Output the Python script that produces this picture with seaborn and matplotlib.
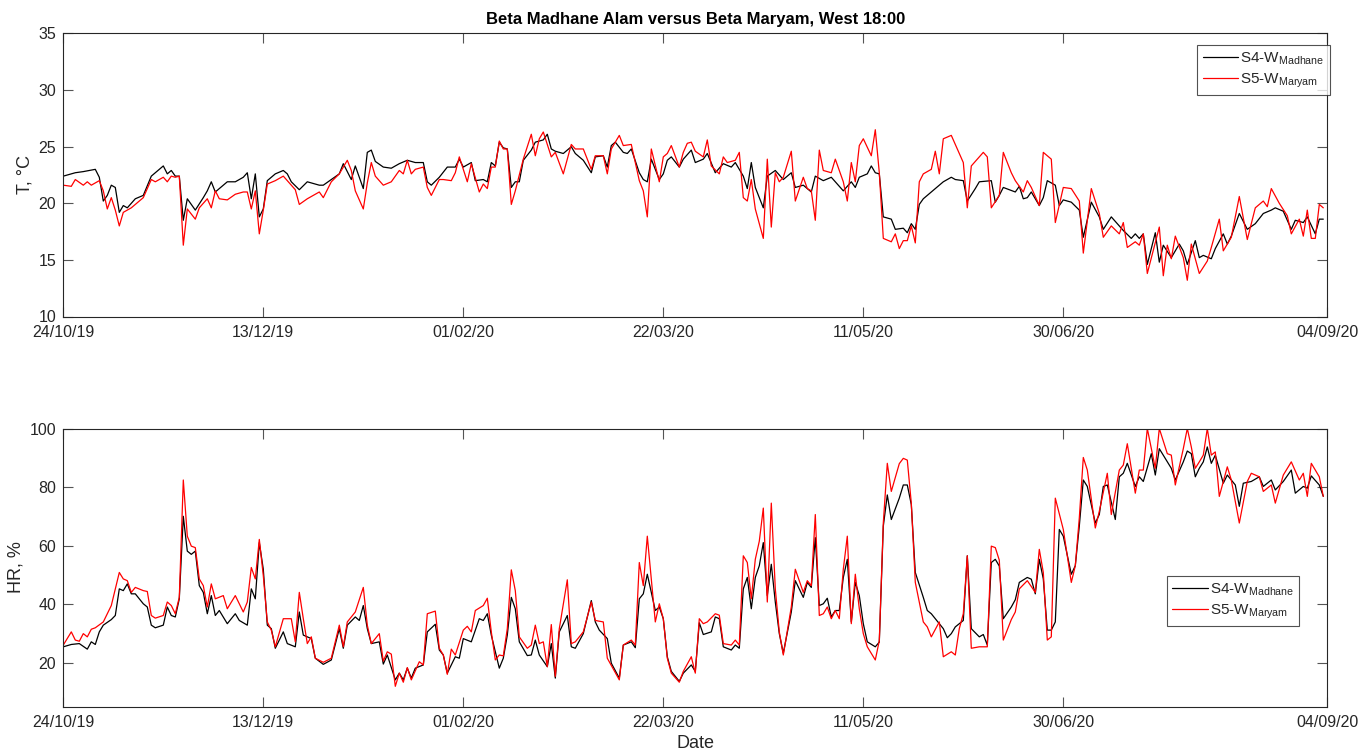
import numpy as np
import pandas as pd
import matplotlib
matplotlib.use("Agg")
import matplotlib.pyplot as plt
import seaborn as sns
from matplotlib.lines import Line2D

# ---------------- data (day offset from 24/10/2019, value) ----------------
START = "2019-10-24"
SERIES_NAMES = [r"S4-W$_{\mathrm{Madhane}}$", r"S5-W$_{\mathrm{Maryam}}$"]
SERIES_COLORS = ["#000000", "#ff0000"]

TICK_DAYS = [0, 50, 100, 150, 200, 250, 316]
TICK_LABELS = ["24/10/19", "13/12/19", "01/02/20", "22/03/20", "11/05/20", "30/06/20", "04/09/20"]

T_S4 = [(0,22.4),(1,22.5),(3,22.7),(5,22.8),(8,23.0),(9,22.3),(10,20.2),(11,20.7),(12,21.6),(13,21.4),(14,19.2),(15,19.8),(16,19.6),(18,20.4),(20,20.7),(22,22.4),(23,22.7),(25,23.3),(26,22.6),(27,22.9),(28,22.4),(29,22.4),(30,18.5),(31,20.4),(32,19.9),(33,19.4),(35,20.5),(36,21.1),(37,21.9),(38,21.0),(40,21.6),(41,21.9),(43,21.9),(45,22.3),(46,22.7),(47,20.4),(48,22.6),(49,18.8),(50,19.5),(51,22.0),(53,22.6),(55,22.9),(56,22.6),(57,21.9),(59,21.2),(61,21.9),(64,21.6),(65,21.6),(67,22.1),(69,22.6),(70,23.5),(72,22.1),(73,23.3),(75,21.3),(76,24.5),(77,24.7),(78,23.7),(80,23.2),(82,23.1),(84,23.5),(86,23.8),(88,23.6),(90,23.6),(91,21.9),(92,21.6),(94,22.3),(96,23.2),(98,23.2),(99,23.9),(100,23.2),(102,23.6),(103,22.0),(105,22.1),(106,21.9),(107,23.6),(108,23.3),(109,25.4),(110,24.9),(111,24.8),(112,21.4),(113,21.9),(114,21.9),(115,23.8),(117,24.7),(118,25.4),(120,25.6),(121,26.1),(122,24.8),(123,24.6),(125,24.4),(127,25.0),(128,24.4),(130,23.8),(132,22.7),(133,24.1),(135,24.2),(136,23.2),(137,25.1),(138,25.4),(140,24.5),(141,24.4),(142,24.8),(144,22.7),(145,22.1),(146,21.9),(147,23.9),(149,22.1),(150,22.6),(151,23.8),(152,24.1),(154,23.2),(155,23.9),(157,24.7),(158,23.6),(160,23.9),(161,24.4),(163,22.7),(165,23.5),(167,23.2),(168,23.6),(170,22.4),(171,21.3),(172,23.6),(173,21.4),(175,19.6),(176,22.4),(178,22.9),(180,22.1),(182,22.7),(183,21.4),(185,21.6),(187,21.0),(188,22.4),(190,22.0),(192,22.3),(195,21.1),(197,21.9),(198,21.4),(199,22.3),(201,22.6),(202,23.3),(203,22.7),(204,22.6),(205,18.8),(207,18.6),(208,17.7),(210,17.8),(211,17.4),(212,18.2),(213,17.7),(214,19.9),(215,20.4),(217,21.0),(218,21.3),(220,21.9),(222,22.3),(223,22.1),(225,22.0),(226,20.2),(228,21.3),(229,21.9),(232,22.0),(233,20.1),(234,20.7),(235,21.4),(238,21.0),(239,21.5),(240,20.4),(241,20.5),(242,21.0),(244,19.8),(245,20.5),(246,22.0),(248,21.6),(249,19.8),(250,20.3),(252,20.1),(254,19.4),(255,17.0),(257,20.1),(259,18.8),(260,17.7),(262,18.8),(264,18.0),(265,17.6),(267,16.9),(268,17.3),(269,16.9),(270,17.3),(271,14.6),(273,17.4),(274,14.8),(275,16.3),(277,15.2),(279,16.4),(280,15.8),(281,14.6),(283,16.7),(284,15.2),(285,15.4),(287,15.1),(288,16.0),(290,17.3),(291,16.4),(292,17.1),(294,19.1),(295,18.4),(296,17.7),(298,18.2),(300,19.1),(302,19.4),(303,19.6),(305,19.3),(307,17.7),(308,18.5),(310,18.3),(311,18.8),(313,17.3),(314,18.6),(315,18.6)]

T_S5 = [(0,21.6),(2,21.5),(3,22.1),(5,21.6),(6,21.9),(7,21.6),(9,22.0),(10,21.1),(11,19.5),(12,20.5),(13,19.4),(14,18.0),(15,19.2),(17,19.6),(18,19.9),(20,20.5),(22,22.1),(23,21.9),(25,22.3),(26,21.9),(27,22.4),(28,22.3),(29,22.4),(30,16.3),(31,19.5),(33,18.6),(34,19.6),(36,20.4),(37,19.6),(38,21.1),(39,20.4),(41,20.3),(43,20.8),(45,21.0),(46,21.0),(47,19.5),(48,21.1),(49,17.3),(50,19.4),(51,21.7),(53,22.0),(55,22.4),(56,22.0),(58,21.2),(59,19.9),(61,20.4),(64,21.0),(65,20.5),(67,21.9),(69,22.6),(71,23.8),(72,22.9),(73,21.1),(75,19.5),(76,21.8),(77,23.6),(78,22.4),(80,21.6),(82,21.9),(83,22.4),(84,22.9),(85,22.6),(86,23.8),(87,22.6),(88,23.0),(90,23.2),(91,21.4),(92,20.7),(94,22.1),(95,22.1),(97,22.0),(98,22.7),(99,24.1),(101,21.9),(102,23.5),(104,21.0),(105,21.7),(106,21.3),(107,23.2),(108,23.2),(109,25.5),(110,24.8),(111,24.8),(112,19.9),(113,21.1),(115,23.9),(117,26.1),(118,24.2),(119,25.7),(120,26.3),(122,24.1),(123,24.5),(125,22.6),(127,25.2),(128,24.8),(130,24.8),(132,23.0),(133,24.2),(135,24.2),(136,22.6),(137,24.8),(139,26.0),(140,25.1),(142,25.2),(144,22.0),(145,21.1),(146,18.8),(147,24.8),(149,21.9),(150,24.1),(151,24.4),(152,25.1),(154,23.2),(155,24.5),(156,25.3),(157,25.4),(158,24.6),(160,24.1),(161,25.6),(162,23.3),(164,22.6),(165,24.1),(166,23.6),(168,23.8),(169,24.5),(170,20.5),(171,20.2),(172,22.1),(173,19.5),(175,16.9),(176,23.9),(177,17.9),(178,22.7),(179,21.9),(180,22.3),(182,24.6),(183,20.2),(185,22.3),(186,21.3),(187,21.1),(188,18.5),(189,24.7),(190,22.9),(192,22.7),(193,23.9),(195,21.9),(196,20.2),(197,23.6),(198,21.9),(199,25.1),(200,25.7),(202,24.2),(203,26.5),(204,22.7),(205,16.9),(207,16.6),(208,17.3),(209,16.0),(210,16.7),(211,16.7),(212,18.0),(213,16.5),(214,21.9),(215,22.6),(217,23.0),(218,24.6),(219,22.6),(220,25.7),(222,26.0),(225,23.6),(226,19.6),(227,23.3),(230,24.5),(231,24.1),(232,19.6),(234,20.7),(235,24.5),(237,22.7),(238,22.0),(240,21.0),(241,22.0),(242,21.4),(244,19.8),(245,24.5),(247,23.9),(248,18.3),(250,21.4),(252,21.3),(254,20.2),(255,15.6),(257,21.3),(259,19.1),(260,17.0),(262,18.0),(264,17.3),(265,18.3),(266,16.1),(268,16.6),(269,16.3),(270,17.3),(271,13.8),(274,17.9),(275,13.6),(276,16.3),(277,15.1),(278,17.1),(280,15.2),(281,13.2),(282,16.4),(284,13.8),(286,14.9),(287,16.1),(289,18.6),(290,15.8),(292,17.0),(294,20.6),(296,16.8),(298,19.6),(300,20.2),(301,19.7),(302,21.3),(304,20.0),(306,18.9),(307,17.3),(309,18.6),(310,17.1),(311,19.4),(312,16.9),(313,16.9),(314,19.9),(315,19.6)]

HR_S4 = [(0,25.4),(2,26.2),(4,26.5),(6,24.6),(7,27.1),(8,26.2),(9,30.5),(10,32.8),(12,34.7),(13,36.1),(14,45.2),(15,44.6),(16,46.9),(17,43.5),(18,43.5),(20,40.1),(21,39.0),(22,32.8),(23,31.9),(25,32.8),(26,39.0),(27,36.1),(28,35.6),(29,41.8),(30,70.0),(31,58.1),(32,57.0),(33,58.1),(34,46.3),(35,44.0),(36,36.7),(37,42.9),(38,36.1),(39,37.8),(41,33.3),(43,36.7),(44,34.4),(46,32.8),(47,45.2),(48,41.8),(49,61.0),(50,51.9),(51,32.8),(52,31.6),(53,24.9),(55,30.5),(56,26.5),(58,25.4),(59,37.3),(60,29.4),(62,28.2),(63,21.5),(65,19.4),(67,20.9),(69,31.6),(70,24.9),(71,32.8),(73,35.6),(74,34.4),(75,39.5),(76,31.6),(77,26.5),(79,27.1),(80,19.5),(81,22.6),(83,14.1),(84,16.4),(85,14.1),(86,18.1),(87,14.7),(88,18.1),(90,19.2),(91,30.5),(93,33.1),(94,24.3),(95,22.6),(96,16.4),(98,22.0),(99,21.5),(100,28.2),(102,27.1),(104,35.0),(105,34.4),(106,36.7),(107,29.4),(109,18.1),(110,21.5),(111,29.4),(112,42.3),(113,38.4),(114,27.1),(116,22.4),(117,22.6),(118,27.7),(119,22.6),(121,18.6),(122,26.5),(123,14.7),(124,30.5),(126,36.1),(127,25.4),(128,24.9),(130,29.9),(132,41.2),(133,33.9),(134,31.1),(136,28.2),(137,19.8),(139,14.7),(140,26.0),(142,27.1),(143,25.1),(144,41.8),(145,43.5),(146,50.2),(148,37.8),(149,39.0),(150,35.0),(151,22.0),(152,17.0),(154,13.6),(155,16.4),(157,19.2),(158,17.0),(159,33.6),(160,29.6),(162,30.5),(163,35.6),(164,35.0),(165,25.4),(167,24.3),(168,26.0),(169,24.9),(170,45.2),(171,49.1),(172,38.4),(173,49.1),(174,53.1),(175,61.0),(176,42.9),(177,53.6),(178,40.7),(179,29.9),(180,23.2),(182,37.3),(183,48.0),(185,42.3),(186,47.4),(187,45.7),(188,62.7),(189,39.5),(190,40.1),(191,42.0),(192,35.6),(193,37.8),(194,37.8),(195,49.1),(196,55.3),(197,33.9),(198,47.4),(199,42.9),(200,33.3),(201,27.1),(203,25.4),(204,27.0),(205,66.6),(206,77.3),(207,68.9),(209,76.2),(210,80.7),(211,80.7),(212,74.0),(213,50.8),(215,42.3),(216,37.8),(217,36.7),(218,35.0),(220,31.6),(221,28.5),(222,29.9),(223,32.2),(225,34.4),(226,56.5),(227,31.6),(229,28.8),(230,29.6),(231,26.0),(232,54.2),(233,55.3),(234,53.0),(235,35.0),(237,39.0),(238,41.5),(239,47.4),(241,49.1),(242,48.5),(243,43.5),(244,55.3),(245,48.6),(246,31.1),(247,31.1),(248,33.9),(249,65.5),(250,63.2),(252,50.2),(253,53.1),(254,66.6),(255,82.4),(256,80.2),(258,67.7),(259,70.6),(260,80.2),(261,80.7),(263,68.9),(264,83.5),(265,84.7),(266,88.1),(268,80.2),(269,83.5),(270,81.9),(272,91.4),(273,84.1),(274,93.1),(276,88.6),(277,86.4),(278,82.4),(280,88.6),(281,92.3),(282,91.4),(283,83.5),(284,86.4),(285,88.6),(286,93.7),(287,88.1),(288,90.9),(290,81.3),(291,84.1),(292,82.4),(293,80.7),(294,73.4),(295,81.3),(297,81.9),(299,83.5),(300,80.2),(302,82.4),(303,79.0),(305,81.9),(307,85.8),(308,77.9),(310,80.2),(311,79.6),(312,83.8),(314,80.7),(315,76.8)]

HR_S5 = [(0,26.0),(2,30.5),(3,27.7),(4,27.3),(5,29.9),(6,28.8),(7,31.4),(8,31.9),(10,33.9),(11,36.7),(12,39.5),(14,50.8),(15,48.6),(16,48.0),(17,44.0),(18,45.7),(20,44.6),(21,44.3),(22,36.1),(23,35.2),(25,36.1),(26,40.7),(27,39.5),(28,36.7),(29,42.3),(30,82.4),(31,63.2),(32,59.8),(33,59.3),(34,48.6),(35,46.3),(36,39.0),(37,46.9),(38,41.8),(40,42.9),(41,38.4),(43,42.9),(45,37.3),(46,40.7),(47,52.5),(48,48.6),(49,62.1),(50,49.7),(51,33.9),(52,31.1),(53,25.4),(55,35.0),(57,35.0),(58,27.1),(59,44.0),(60,35.0),(61,26.5),(62,28.8),(63,21.5),(65,20.1),(67,21.5),(69,32.8),(70,25.4),(71,33.9),(73,37.3),(75,45.7),(76,32.8),(77,26.5),(79,29.9),(80,20.5),(81,23.7),(82,22.9),(83,11.9),(84,16.4),(85,13.3),(86,18.3),(87,14.1),(89,20.3),(90,19.2),(91,36.7),(93,37.6),(94,24.9),(95,22.6),(96,16.0),(97,24.6),(98,22.6),(100,31.1),(101,32.4),(102,30.5),(103,37.8),(105,39.5),(106,42.0),(107,30.5),(108,20.9),(109,22.6),(110,22.3),(111,31.6),(112,51.7),(113,44.6),(114,28.8),(116,24.9),(117,26.0),(118,32.8),(119,26.5),(120,27.1),(121,18.6),(122,33.0),(123,15.3),(124,31.6),(126,48.3),(127,26.5),(128,27.1),(130,30.5),(132,40.7),(133,34.4),(135,33.9),(136,21.5),(139,14.1),(140,26.0),(142,27.7),(143,26.0),(144,54.2),(145,46.3),(146,63.2),(148,33.9),(149,40.1),(150,35.0),(151,21.5),(152,16.4),(154,13.3),(155,17.0),(157,22.0),(158,16.4),(159,35.0),(160,33.3),(161,33.9),(163,36.7),(164,36.2),(165,26.5),(167,26.0),(168,27.7),(169,26.0),(170,56.5),(171,54.2),(172,41.8),(173,55.3),(174,61.5),(175,72.8),(176,40.7),(177,74.5),(178,45.2),(179,30.5),(180,22.6),(182,39.0),(183,51.9),(185,44.0),(186,48.0),(187,46.3),(188,70.6),(189,36.1),(190,36.7),(191,39.0),(192,35.0),(193,37.8),(194,35.0),(195,51.9),(196,63.2),(197,33.3),(198,50.2),(199,38.4),(200,29.9),(201,25.4),(203,20.9),(204,27.5),(205,67.7),(206,88.1),(207,78.5),(209,88.0),(210,89.8),(211,89.2),(212,74.5),(213,47.4),(215,33.9),(216,32.2),(217,28.8),(219,33.9),(220,22.0),(222,23.7),(223,22.6),(224,31.6),(225,36.7),(226,56.5),(227,24.9),(229,25.4),(231,25.4),(232,59.8),(233,59.3),(234,55.0),(235,27.7),(237,34.7),(238,37.3),(239,45.2),(241,48.0),(243,44.0),(244,58.7),(245,50.8),(246,27.7),(247,28.8),(248,76.2),(250,65.5),(252,47.4),(253,53.1),(254,69.4),(255,90.1),(256,85.8),(258,66.0),(259,71.7),(261,84.7),(262,70.6),(264,85.8),(265,87.5),(266,94.8),(268,77.9),(269,85.8),(270,85.8),(271,100.0),(273,86.4),(274,100.0),(276,91.4),(277,90.9),(278,80.7),(280,93.1),(281,100.0),(282,93.7),(283,86.4),(284,88.6),(285,90.9),(286,100.0),(287,90.9),(288,92.0),(289,76.8),(291,86.9),(292,82.4),(294,67.7),(296,81.9),(297,84.7),(299,83.5),(300,78.5),(302,80.7),(303,74.5),(305,84.1),(307,88.6),(309,82.4),(310,84.7),(311,76.8),(312,88.1),(314,83.5),(315,76.8)]


def frame(pairs_list):
    parts = []
    for name, pairs in zip(SERIES_NAMES, pairs_list):
        d = pd.DataFrame(pairs, columns=["day", "value"])
        d["date"] = pd.Timestamp(START) + pd.to_timedelta(d["day"], unit="D")
        d["series"] = name
        parts.append(d)
    return pd.concat(parts, ignore_index=True)


df_t = frame([T_S4, T_S5])
df_h = frame([HR_S4, HR_S5])

# ---------------- style ----------------
sns.set_style("white")
plt.rcParams["font.family"] = ["Liberation Sans", "DejaVu Sans"]
plt.rcParams["mathtext.fontset"] = "custom"
plt.rcParams["mathtext.rm"] = "Liberation Sans"
plt.rcParams["mathtext.it"] = "Liberation Sans:italic"

AX_COL = "#262626"
fig = plt.figure(figsize=(13.7, 7.54), dpi=100)
ax1 = fig.add_axes([63.3 / 1370, 1 - 316.5 / 754, 1264 / 1370, 283 / 754])
ax2 = fig.add_axes([63.3 / 1370, 1 - 706.5 / 754, 1264 / 1370, 278 / 754])

palette = dict(zip(SERIES_NAMES, SERIES_COLORS))
for ax, df in [(ax1, df_t), (ax2, df_h)]:
    sns.lineplot(data=df, x="date", y="value", hue="series", palette=palette,
                 estimator=None, errorbar=None, linewidth=0.9, ax=ax, legend=False)

tick_dates = [pd.Timestamp(START) + pd.Timedelta(days=d) for d in TICK_DAYS]
for ax in (ax1, ax2):
    ax.set_xlim(tick_dates[0], tick_dates[-1])
    ax.set_xticks(tick_dates)
    ax.set_xticklabels(TICK_LABELS)
    for s in ax.spines.values():
        s.set_visible(True)
        s.set_color(AX_COL)
        s.set_linewidth(0.8)
    ax.tick_params(direction="in", length=7, width=0.8, color="#555555",
                   labelcolor=AX_COL, labelsize=11.5, top=True, right=True,
                   bottom=True, left=True)
    ax.tick_params(axis="x", pad=6)
    ax.tick_params(axis="y", pad=5)
    ax.set_xlabel("")

ax1.set_ylim(10, 35)
ax1.set_yticks([10, 15, 20, 25, 30, 35])
ax1.set_ylabel("T, °C", fontsize=13, color=AX_COL, labelpad=4)
ax1.set_title("Beta Madhane Alam versus Beta Maryam, West 18:00",
              fontsize=12, fontweight="bold", color="#000000", pad=7)

ax2.set_ylim(5, 100)
ax2.set_yticks([20, 40, 60, 80, 100])
ax2.set_ylabel("HR, %", fontsize=13, color=AX_COL, labelpad=4)
ax2.set_xlabel("Date", fontsize=13, color=AX_COL, labelpad=4)

handles = [Line2D([0], [0], color=c, lw=0.9) for c in SERIES_COLORS]
for ax, anchor in [(ax1, (1.002, 0.958)), (ax2, (0.978, 0.468))]:
    leg = ax.legend(handles, SERIES_NAMES, loc="upper right", bbox_to_anchor=anchor,
                    borderaxespad=0, fontsize=11, frameon=True, fancybox=False,
                    handlelength=2.3, handletextpad=0.15, borderpad=0.35,
                    labelspacing=0.3)
    leg.get_frame().set_edgecolor(AX_COL)
    leg.get_frame().set_linewidth(0.8)

fig.savefig("out.png", dpi=100)
